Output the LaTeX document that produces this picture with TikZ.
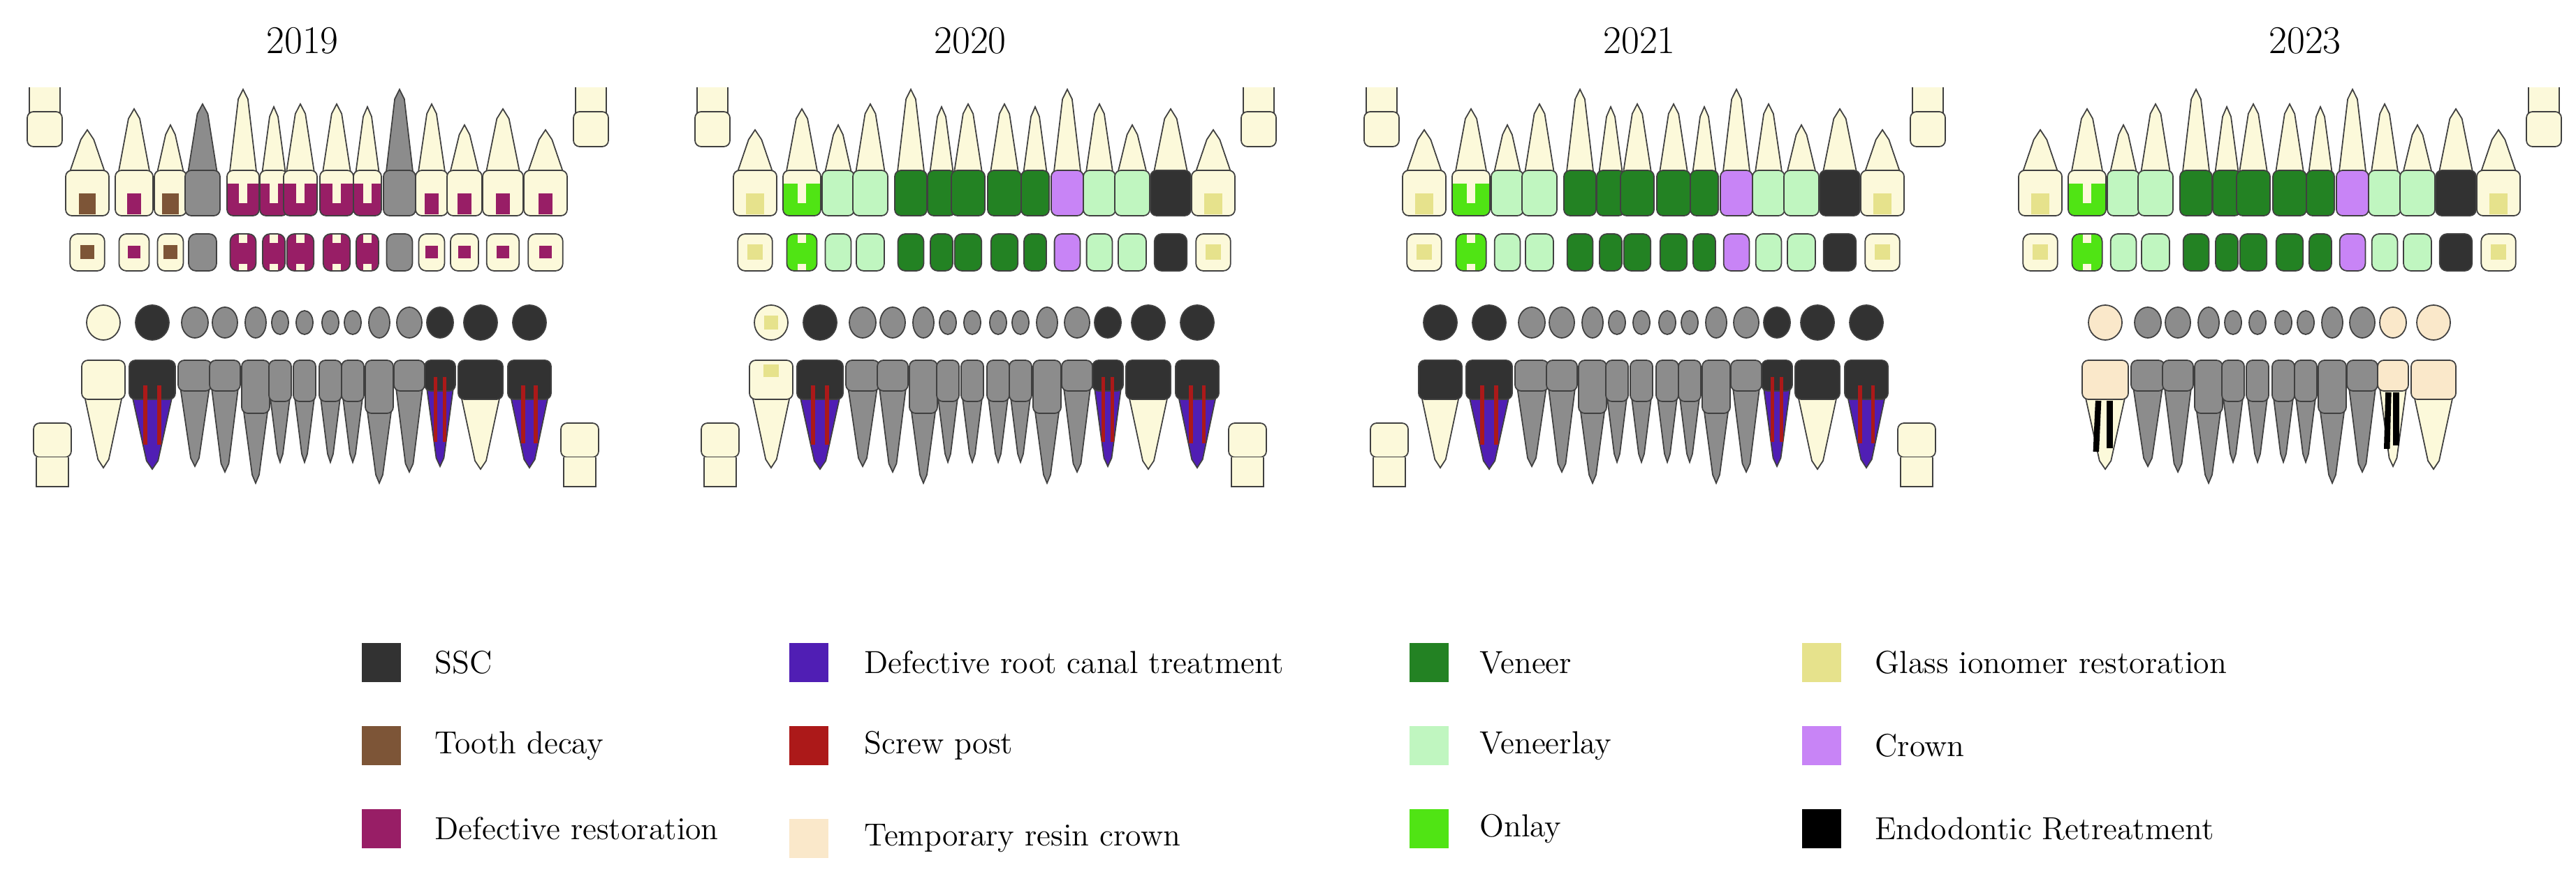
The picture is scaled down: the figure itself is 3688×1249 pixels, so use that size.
\documentclass[tikz,border=0pt]{standalone}
\usepackage{xcolor}
\usetikzlibrary{positioning}
\definecolor{cream}{RGB}{252,249,218}
\definecolor{toothgray}{RGB}{140,140,140}
\definecolor{ssc}{RGB}{50,50,50}
\definecolor{decay}{RGB}{125,85,55}
\definecolor{defrest}{RGB}{152,30,102}
\definecolor{rcblue}{RGB}{80,30,180}
\definecolor{screwpost}{RGB}{172,25,25}
\definecolor{tempresin}{RGB}{250,232,202}
\definecolor{veneer}{RGB}{35,130,35}
\definecolor{veneerlay}{RGB}{192,246,192}
\definecolor{onlay}{RGB}{80,228,20}
\definecolor{glassio}{RGB}{230,226,140}
\definecolor{crownv}{RGB}{200,132,246}
\definecolor{endo}{RGB}{0,0,0}

% tooth geometry (upper row, lower row)
\def\ux{{125,192,244,290,348,392,430,482,526,572,618,665,720,781}}
\def\uh{{31,27,23,25,23,20,24,24,20,23,23,25,29,31}}
\def\ut{{186,156,179,149,128,153,149,149,153,128,149,179,156,186}}
\def\lx{{148,218,279,322,366,401,436,473,505,543,586,630,688,758}}
\def\lh{{31,33,24,22,20,16,16,16,16,20,22,22,32,31}}
\def\lt{{670,672,668,676,692,662,662,662,662,692,676,668,672,670}}
\def\lb{{572,572,560,560,592,575,575,575,575,592,560,560,572,572}}
\def\lw{{24,24,19,18,15,12,12,12,12,15,18,19,24,24}}
\def\lv{{25,25,22,22,22,17,17,17,17,22,22,22,25,25}}

\tikzset{
  tooth/.style={draw=black!75, line width=0.5pt},
  cpatch/.style 2 args={fill=cream, path picture={\fill[#1, sharp corners] ([shift={(-#2,-2)}]path picture bounding box.south) rectangle ++(2*#2,-30);}},
  opatch/.style 2 args={fill=cream, path picture={\fill[#1, sharp corners] ([shift={(-#2,-#2)}]path picture bounding box.center) rectangle ++(2*#2,2*#2);}},
  cnotch/.style={fill=cream, path picture={\fill[#1, sharp corners] ([shift={(-40,0)}]path picture bounding box.south) rectangle ++(80,-46);
      \fill[cream, sharp corners] ([shift={(-6,-18)}]path picture bounding box.south) rectangle ++(12,-40);}},
  onotch/.style={fill=#1, path picture={\fill[cream, sharp corners] ([shift={(-6,0)}]path picture bounding box.north) rectangle ++(12,13);
      \fill[cream, sharp corners] ([shift={(-6,0)}]path picture bounding box.south) rectangle ++(12,-10);}},
  cr n/.style={fill=cream}, oc n/.style={fill=cream},
  cr c/.style={cpatch={decay}{12}}, oc c/.style={opatch={decay}{10}},
  cr d/.style={cpatch={defrest}{10}}, oc d/.style={opatch={defrest}{9}},
  cr D/.style={cnotch=defrest}, oc D/.style={onotch=defrest},
  cr o/.style={cnotch=onlay}, oc o/.style={onotch=onlay},
  cr i/.style={cpatch={glassio}{13}}, oc i/.style={opatch={glassio}{11}},
  cr g/.style={fill=toothgray}, oc g/.style={fill=toothgray},
  cr l/.style={fill=veneerlay}, oc l/.style={fill=veneerlay},
  cr v/.style={fill=veneer}, oc v/.style={fill=veneer},
  cr w/.style={fill=crownv}, oc w/.style={fill=crownv},
  cr s/.style={fill=ssc}, oc s/.style={fill=ssc},
  lc n/.style={fill=cream}, lr n/.style={fill=cream}, lo n/.style={fill=cream},
  lc g/.style={fill=toothgray}, lr g/.style={fill=toothgray}, lo g/.style={fill=toothgray},
  lc s/.style={fill=ssc}, lr s/.style={fill=cream}, lo s/.style={fill=ssc},
  lc r/.style={fill=ssc}, lr r/.style={fill=rcblue}, lo r/.style={fill=ssc},
  lc i/.style={fill=cream, path picture={\fill[glassio, sharp corners] ([shift={(-11,6)}]path picture bounding box.north) rectangle ++(22,18);}},
  lr i/.style={fill=cream}, lo i/.style={opatch={glassio}{10}},
  lc t/.style={fill=tempresin}, lr t/.style={fill=cream}, lo t/.style={fill=tempresin},
  lc e/.style={fill=tempresin}, lr e/.style={fill=cream}, lo e/.style={fill=tempresin},
  key/.style={rectangle, minimum width=0.56cm, minimum height=0.55cm, inner sep=0pt},
  keytext/.style={anchor=west, inner sep=0pt, font=\fontsize{13pt}{15pt}\selectfont},
  year/.style={font=\fontsize{16pt}{18pt}\selectfont}
}

% one chart: offset, upper codes, lower codes
\newcommand\jaw[3]{%
\begin{scope}[shift={(#1,0)}]
  \foreach \c [count=\i from 0] in {#2} {
    \pgfmathsetmacro\X{\ux[\i]}\pgfmathsetmacro\H{\uh[\i]}\pgfmathsetmacro\T{\ut[\i]}
    \def\rf{cream}\if\c g\def\rf{toothgray}\fi
    \draw[tooth, fill=\rf] (\X-0.85*\H,250) -- (\X-0.3*\H,\T+14) -- (\X,\T) -- (\X+0.3*\H,\T+14) -- (\X+0.85*\H,250) -- cycle;
    \draw[tooth, rounded corners=2.5pt, cr \c] (\X-\H,244) rectangle (\X+\H,309);
    \draw[tooth, rounded corners=3pt, oc \c] (\X-0.8*\H,335) rectangle (\X+0.8*\H,388);
  }
  \foreach \c [count=\i from 0] in {#3} {
    \if\c x\else
    \pgfmathsetmacro\X{\lx[\i]}\pgfmathsetmacro\H{\lh[\i]}\pgfmathsetmacro\T{\lt[\i]}
    \pgfmathsetmacro\B{\lb[\i]}\pgfmathsetmacro\W{\lw[\i]}\pgfmathsetmacro\V{\lv[\i]}
    \draw[tooth, lr \c] (\X-0.85*\H,\B-2) -- (\X-0.25*\H,\T-12) -- (\X,\T) -- (\X+0.25*\H,\T-12) -- (\X+0.85*\H,\B-2) -- cycle;
    \draw[tooth, rounded corners=2.5pt, lc \c] (\X-\H,516) rectangle (\X+\H,\B);
    \draw[tooth, lo \c] (\X,462) ellipse [x radius=\W, y radius=\V];
    \if\c r
      \draw[screwpost, line width=1.6pt] (\X-0.3*\H,\B-20) -- (\X-0.3*\H,\T-35);
      \draw[screwpost, line width=1.6pt] (\X+0.3*\H,\B-20) -- (\X+0.3*\H,\T-35);
    \fi
    \if\c e
      \draw[endo, line width=2.4pt] (\X-0.3*\H,\B+2) -- (\X-0.4*\H,\T-25);
      \draw[endo, line width=2.4pt] (\X+0.2*\H,\B+2) -- (\X+0.2*\H,\T-30);
    \fi
    \fi
  }
\end{scope}}
\newcommand\wisdomU[1]{%
  \draw[tooth, fill=cream] (#1-22,125) -- (#1-22,165) -- (#1+22,165) -- (#1+22,125);
  \draw[tooth, fill=cream, rounded corners=2.5pt] (#1-25,160) rectangle (#1+25,210);}
\newcommand\wisdomL[1]{%
  \draw[tooth, fill=cream, rounded corners=2.5pt] (#1-27,606) rectangle (#1+27,655);
  \draw[tooth, fill=cream] (#1-23,655) -- (#1-23,697) -- (#1+23,697) -- (#1+23,655);}

\begin{document}
\begin{tikzpicture}[x=0.01cm, y=-0.01cm]
  \useasboundingbox (0,0) rectangle (3688,1249);

  \node[year] (y2019) at (433,58) {2019};
  \node[year] (y2020) at (1389,58) {2020};
  \node[year] (y2021) at (2347,58) {2021};
  \node[year] (y2023) at (3300,58) {2023};

  \jaw{0}{c,d,c,g,D,D,D,D,D,g,d,d,d,d}{n,r,g,g,g,g,g,g,g,g,g,r,s,r}
  \wisdomU{64}\wisdomU{846}\wisdomL{75}\wisdomL{830}

  \jaw{956}{i,o,l,l,v,v,v,v,v,w,l,l,s,i}{i,r,g,g,g,g,g,g,g,g,g,r,s,r}
  \wisdomU{1020}\wisdomU{1802}\wisdomL{1031}\wisdomL{1786}

  \jaw{1914}{i,o,l,l,v,v,v,v,v,w,l,l,s,i}{s,r,g,g,g,g,g,g,g,g,g,r,s,r}
  \wisdomU{1978}\wisdomU{2760}\wisdomL{1989}\wisdomL{2744}

  \jaw{2796}{i,o,l,l,v,v,v,v,v,w,l,l,s,i}{x,e,g,g,g,g,g,g,g,g,g,e,t,x}
  \wisdomU{3642}

  % legend
  \node[key, fill=ssc] (kssc) at (546,949) {};
  \node[keytext, right=0.47cm of kssc] (tssc) {SSC};
  \node[key, fill=decay] (kdecay) at (546,1068) {};
  \node[keytext, right=0.47cm of kdecay] (tdecay) {Tooth decay};
  \node[key, fill=defrest] (kdefrest) at (546,1187) {};
  \node[keytext, right=0.47cm of kdefrest] (tdefrest) {Defective restoration};

  \node[key, fill=rcblue] (krc) at (1158,949) {};
  \node[keytext, right=0.5cm of krc] (trc) {Defective root canal treatment};
  \node[key, fill=screwpost] (kpost) at (1158,1068) {};
  \node[keytext, right=0.5cm of kpost] (tpost) {Screw post};
  \node[key, fill=tempresin] (ktemp) at (1158,1201) {};
  \node[keytext, right=0.5cm of ktemp] (ttemp) {Temporary resin crown};

  \node[key, fill=veneer] (kveneer) at (2046,949) {};
  \node[keytext, right=0.43cm of kveneer] (tveneer) {Veneer};
  \node[key, fill=veneerlay] (kvlay) at (2046,1068) {};
  \node[keytext, right=0.43cm of kvlay] (tvlay) {Veneerlay};
  \node[key, fill=onlay] (konlay) at (2046,1187) {};
  \node[keytext, right=0.43cm of konlay] (tonlay) {Onlay};

  \node[key, fill=glassio] (kglass) at (2608,949) {};
  \node[keytext, right=0.47cm of kglass] (tglass) {Glass ionomer restoration};
  \node[key, fill=crownv] (kcrown) at (2608,1068) {};
  \node[keytext, right=0.47cm of kcrown] (tcrown) {Crown};
  \node[key, fill=endo] (kendo) at (2608,1187) {};
  \node[keytext, right=0.47cm of kendo] (tendo) {Endodontic Retreatment};
\end{tikzpicture}
\end{document}
